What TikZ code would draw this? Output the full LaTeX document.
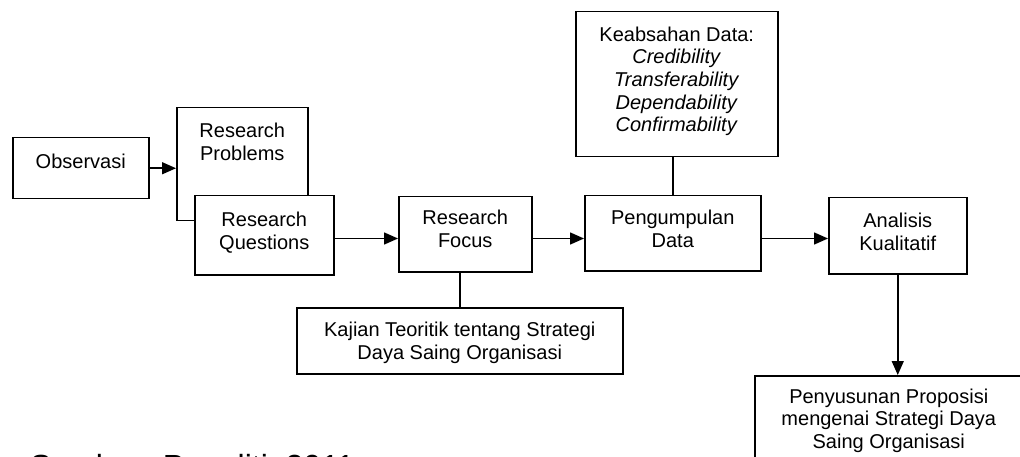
\documentclass[tikz,border=0pt]{standalone}
\usepackage{fontspec}
\setmainfont{Liberation Sans}
\usetikzlibrary{arrows.meta}
\begin{document}
\begin{tikzpicture}[x=1pt,y=-1pt,
  box/.style={draw, line width=1.5pt, fill=white, align=center, inner sep=0pt,
    anchor=north west, font=\fontsize{20}{22.6}\selectfont},
  link/.style={line width=1.5pt},
  flow/.style={line width=1.5pt, -{Triangle[length=14pt,width=12pt]}}]
\useasboundingbox (0,0) rectangle (1020,457);
\clip (0,0) rectangle (1020,457);
\fill[white] (0,0) rectangle (1020,457);

% process boxes (text height = top edge to last baseline)
\node[box, minimum width=136pt, text height=30.5pt, text depth=30.5pt] (obs) at (12,137) {Observasi};
\node[box, minimum width=131pt, text height=52.6pt, text depth=60.4pt] (prob) at (176,107) {Research\\Problems};
\node[box, minimum width=139pt, text height=53.6pt, text depth=25.4pt] (ques) at (194,195) {Research\\Questions};
\node[box, minimum width=133pt, text height=50.6pt, text depth=24.4pt] (focus) at (398,196) {Research\\Focus};
\node[box, minimum width=176pt, text height=51.6pt, text depth=23.4pt] (peng) at (584,195) {Pengumpulan\\Data};
\node[box, minimum width=202pt, text height=120pt, text depth=25pt] (keab) at (575,11)
  {Keabsahan Data:\\\textit{Credibility}\\\textit{Transferability}\\\textit{Dependability}\\\textit{Confirmability}};
\node[box, minimum width=138pt, text height=52.3pt, text depth=23.7pt] (anal) at (828,197) {Analisis\\Kualitatif};
\node[box, minimum width=326pt, text height=51.6pt, text depth=14.4pt] (kaji) at (296,307)
  {Kajian Teoritik tentang Strategi\\Daya Saing Organisasi};
\node[box, minimum width=268pt, text height=72.5pt, text depth=25pt] (peny) at (754,375)
  {Penyusunan Proposisi\\mengenai Strategi Daya\\Saing Organisasi};

% connectors
\coordinate (row) at (0,238.5);
\draw[flow] (obs.east) -- (obs.east -| prob.west);
\draw[flow] (ques.east |- row) -- (focus.west |- row);
\draw[flow] (focus.east |- row) -- (peng.west |- row);
\draw[flow] (peng.east |- row) -- (anal.west |- row);
\draw[link] (peng.north) -- (peng.north |- keab.south);
\draw[link] (kaji.north) -- (kaji.north |- focus.south);
\draw[flow] (anal.south) -- (anal.south |- peny.north);

% source line
\node[anchor=base west, inner sep=0pt, font=\fontsize{32}{36}\selectfont] (src) at (30,477) {Sumber: Peneliti, 2011};
\end{tikzpicture}
\end{document}
